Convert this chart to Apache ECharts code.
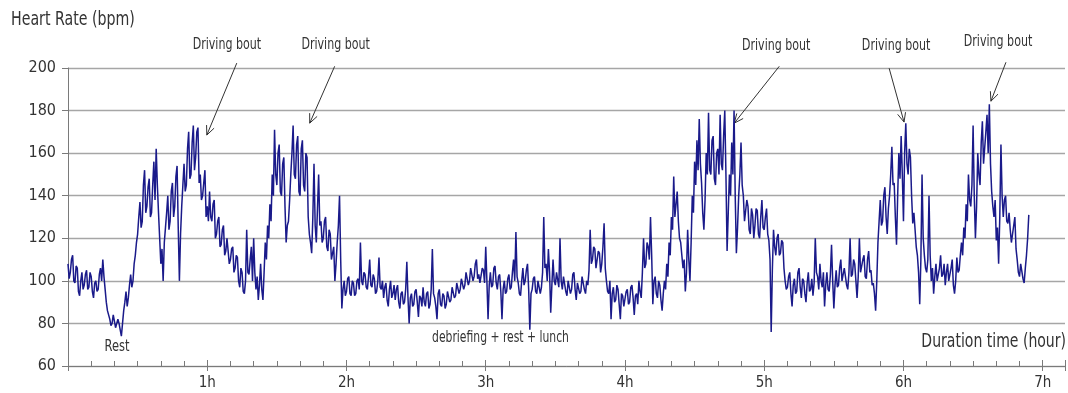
<!DOCTYPE html>
<html>
<head>
<meta charset="utf-8">
<script src="https://cdn.jsdelivr.net/npm/echarts@6/dist/echarts.min.js"></script>
<style>
  html, body { margin: 0; padding: 0; background: #fff; }
  #chart { width: 1068px; height: 393px; }
</style>
</head>
<body>
<div id="chart"></div>
<script>
// heart rate, one reading every 30 s (bpm)
const hour0 = [108, 101, 104, 110, 112, 100, 99, 107, 106, 95, 93, 100, 104, 96, 98, 103, 105, 96, 97, 104,
  102, 95, 92, 99, 100, 95, 96, 103, 106, 100, 110, 102, 96, 90, 86, 84, 82, 79, 80, 84,
  84, 78, 78, 82, 80, 77, 74, 80, 86, 90, 95, 88, 92, 98, 103, 97, 100, 108, 112, 118,
  122, 130, 137, 125, 128, 145, 152, 132, 135, 144, 148, 130, 132, 145, 156, 138, 162, 145, 132, 120,
  108, 115, 100, 118, 125, 132, 140, 124, 128, 142, 146, 130, 135, 149, 154, 125, 100, 122, 135, 145,
  155, 142, 145, 162, 170, 148, 150, 165, 173, 152, 158, 170, 172, 146, 150, 138, 140, 146, 152, 130];
const hour1 = [135, 128, 142, 130, 128, 136, 138, 120, 122, 128, 130, 116, 117, 124, 126, 112, 114, 120, 120, 108,
  110, 115, 116, 104, 106, 112, 111, 100, 97, 106, 104, 95, 94, 100, 124, 104, 103, 110, 116, 100,
  120, 104, 96, 102, 91, 98, 108, 96, 91, 104, 118, 110, 126, 120, 136, 128, 150, 140, 171, 150,
  145, 160, 164, 142, 140, 155, 158, 135, 118, 126, 128, 138, 150, 160, 173, 150, 148, 164, 168, 142,
  140, 162, 166, 145, 142, 160, 158, 130, 122, 118, 113, 130, 155, 126, 118, 134, 150, 126, 128, 118,
  120, 128, 130, 116, 114, 124, 122, 110, 110, 116, 100, 108, 118, 126, 140, 110, 87, 96, 100, 93];
const hour2 = [95, 101, 102, 94, 93, 100, 99, 93, 94, 100, 101, 96, 118, 100, 98, 104, 103, 97, 96, 102,
  110, 98, 97, 103, 101, 94, 95, 100, 111, 97, 96, 100, 92, 97, 99, 91, 88, 96, 100, 92,
  94, 98, 91, 96, 98, 90, 87, 94, 95, 89, 90, 96, 109, 92, 80, 92, 94, 88, 89, 95,
  96, 90, 83, 93, 92, 88, 97, 90, 88, 94, 95, 87, 89, 96, 115, 94, 92, 88, 82, 94,
  96, 89, 88, 94, 93, 87, 89, 95, 95, 90, 91, 97, 97, 92, 93, 99, 99, 94, 96, 101,
  101, 96, 98, 104, 104, 98, 100, 106, 106, 100, 102, 108, 110, 101, 103, 99, 99, 106, 105, 99];
const hour3 = [116, 100, 82, 98, 104, 97, 98, 106, 107, 99, 96, 102, 103, 95, 82, 96, 100, 94, 95, 101,
  103, 96, 97, 104, 110, 100, 123, 102, 99, 94, 93, 100, 106, 98, 100, 105, 108, 96, 77, 94,
  96, 101, 102, 95, 94, 100, 100, 94, 97, 104, 130, 106, 108, 100, 115, 104, 85, 98, 110, 100,
  98, 104, 104, 97, 120, 100, 96, 102, 102, 95, 93, 100, 100, 94, 96, 103, 104, 96, 91, 99,
  99, 94, 95, 102, 102, 96, 94, 100, 98, 105, 124, 108, 110, 116, 115, 106, 106, 114, 113, 104,
  108, 116, 127, 106, 100, 95, 94, 100, 82, 94, 97, 90, 91, 98, 96, 89, 82, 94, 93, 88];
const hour4 = [88, 95, 96, 89, 90, 97, 98, 92, 84, 93, 94, 89, 100, 95, 92, 104, 120, 106, 108, 118,
  116, 110, 130, 112, 89, 100, 102, 94, 92, 100, 98, 91, 86, 94, 100, 96, 108, 102, 118, 112,
  130, 124, 149, 130, 136, 142, 128, 120, 118, 112, 106, 110, 95, 104, 124, 110, 100, 118, 140, 132,
  156, 145, 166, 152, 176, 155, 146, 132, 124, 138, 160, 150, 179, 152, 150, 166, 168, 148, 145, 160,
  162, 150, 178, 155, 152, 168, 180, 150, 114, 132, 150, 140, 165, 150, 180, 140, 113, 125, 140, 150,
  165, 145, 140, 128, 128, 138, 135, 124, 122, 134, 131, 120, 126, 134, 133, 122, 120, 130, 138, 125];
const hour5 = [124, 130, 134, 122, 119, 110, 76, 105, 124, 116, 112, 120, 122, 112, 113, 119, 118, 106, 100, 96,
  97, 102, 104, 94, 88, 98, 101, 94, 95, 104, 106, 97, 92, 101, 100, 94, 90, 99, 104, 95,
  96, 101, 93, 99, 120, 104, 102, 96, 108, 100, 97, 104, 88, 98, 104, 96, 95, 103, 117, 100,
  87, 98, 105, 97, 98, 106, 110, 100, 100, 106, 106, 98, 96, 104, 120, 102, 103, 110, 108, 100,
  92, 102, 120, 104, 104, 110, 112, 102, 101, 110, 114, 104, 105, 98, 99, 94, 86, 100, 118, 128,
  138, 126, 128, 140, 144, 130, 122, 134, 140, 150, 163, 145, 146, 130, 117, 140, 160, 148, 168, 150];
const hour6 = [128, 160, 174, 155, 150, 162, 158, 140, 127, 132, 124, 116, 112, 104, 89, 110, 150, 120, 112, 106,
  104, 110, 140, 112, 100, 106, 94, 102, 108, 100, 100, 106, 112, 102, 103, 108, 98, 104, 108, 100,
  100, 106, 110, 98, 94, 100, 111, 104, 105, 112, 118, 112, 125, 120, 136, 128, 150, 138, 135, 145,
  173, 140, 120, 135, 160, 150, 145, 165, 175, 155, 155, 170, 178, 160, 183, 155, 142, 135, 130, 138,
  119, 125, 108, 130, 164, 140, 130, 138, 140, 128, 127, 132, 124, 118, 118, 126, 130, 115, 110, 104,
  102, 108, 108, 101, 99, 106, 112, 120, 131];

const heartRate = [].concat(hour0, hour1, hour2, hour3, hour4, hour5, hour6);
const hourTicks = [1, 2, 3, 4, 5, 6, 7];

// annotation texts; anchors in chart units [hours, bpm]
const boutLabels = [
  { text: 'Driving bout', at: [1.141, 210.7], tail: [1.212, 202.3], head: [0.997, 168.5] },
  { text: 'Driving bout', at: [1.922, 210.7], tail: [1.915, 200.8], head: [1.736, 174.1] },
  { text: 'Driving bout', at: [5.086, 210.2], tail: [5.108, 200.8], head: [4.785, 174.1] },
  { text: 'Driving bout', at: [5.947, 210.2], tail: [5.897, 199.9], head: [6.004, 174.6] },
  { text: 'Driving bout', at: [6.679, 212.1], tail: [6.736, 202.7], head: [6.628, 184.4] }
];
const phaseLabels = [
  { text: 'Rest', at: [0.352, 68.9], squeeze: 0.85 },
  { text: 'debriefing + rest + lunch', at: [3.106, 73.1], squeeze: 0.8 }
];

const FONT = '"DejaVu Sans Condensed", "DejaVu Sans", sans-serif';
const TEXT_COLOR = '#333333';
const AXIS_COLOR = '#7a7a7a';

const chart = echarts.init(document.getElementById('chart'), null, { renderer: 'canvas' });

const option = {
  animation: false,
  backgroundColor: '#fff',
  grid: { left: 68, top: 68, right: 2, bottom: 27 },
  xAxis: [
    {
      type: 'value',
      min: 0,
      max: 7.16,
      interval: 1,
      axisLine: { lineStyle: { color: AXIS_COLOR, width: 1 } },
      axisTick: { inside: true, length: 6, lineStyle: { color: AXIS_COLOR } },
      minorTick: { show: true, splitNumber: 6, length: 5, lineStyle: { color: AXIS_COLOR } },
      splitLine: { show: false },
      axisLabel: {
        margin: 10,
        fontFamily: FONT,
        fontSize: 15,
        color: TEXT_COLOR,
        formatter: (v) => (hourTicks.indexOf(v) >= 0 ? v + 'h' : '')
      }
    },
    {
      type: 'value',
      position: 'bottom',
      min: 0,
      max: 7.16,
      interval: 1,
      axisLine: { show: false },
      axisTick: { length: 5, lineStyle: { color: AXIS_COLOR } },
      axisLabel: { show: false },
      splitLine: { show: false }
    }
  ],
  yAxis: {
    type: 'value',
    min: 60,
    max: 200,
    interval: 20,
    axisLine: { show: true, lineStyle: { color: AXIS_COLOR, width: 1 } },
    axisTick: { show: true, length: 6, lineStyle: { color: AXIS_COLOR } },
    splitLine: { lineStyle: { color: '#a6a6a6', width: 1.3 } },
    axisLabel: { margin: 12, fontFamily: FONT, fontSize: 16, color: TEXT_COLOR }
  },
  series: [
    {
      name: 'Heart Rate',
      type: 'line',
      showSymbol: false,
      data: heartRate.map((v, i) => [i / 120, v]),
      lineStyle: { color: '#1a1a8a', width: 1.5 },
      clip: false
    }
  ]
};

chart.setOption(option);

// annotations placed with the chart's own coordinate conversion
function arrowParts(tail, head) {
  const p0 = chart.convertToPixel({ gridIndex: 0 }, tail);
  const p1 = chart.convertToPixel({ gridIndex: 0 }, head);
  const ang = Math.atan2(p1[1] - p0[1], p1[0] - p0[0]);
  const len = 10, spread = 0.42;
  const style = { stroke: '#333', lineWidth: 1 };
  return [
    { type: 'line', shape: { x1: p0[0], y1: p0[1], x2: p1[0], y2: p1[1] }, style },
    { type: 'polyline', shape: { points: [
      [p1[0] - len * Math.cos(ang - spread), p1[1] - len * Math.sin(ang - spread)],
      [p1[0], p1[1]],
      [p1[0] - len * Math.cos(ang + spread), p1[1] - len * Math.sin(ang + spread)]
    ] }, style }
  ];
}

function textPart(text, at, size, squeeze) {
  const p = chart.convertToPixel({ gridIndex: 0 }, at);
  return {
    type: 'text', x: p[0], y: p[1], scaleX: squeeze,
    style: { text, fontFamily: FONT, fontSize: size, fill: TEXT_COLOR, align: 'center', verticalAlign: 'middle' }
  };
}

const graphics = [
  { type: 'text', x: 11, y: 20, scaleX: 0.83,
    style: { text: 'Heart Rate (bpm)', fontFamily: FONT, fontSize: 19, fill: TEXT_COLOR, verticalAlign: 'middle' } },
  { type: 'text', x: 1066, y: 342, scaleX: 0.78,
    style: { text: 'Duration time (hour)', fontFamily: FONT, fontSize: 20, fill: TEXT_COLOR, align: 'right', verticalAlign: 'middle' } }
];
boutLabels.forEach((b) => {
  graphics.push(textPart(b.text, b.at, 15, 0.82));
  graphics.push(...arrowParts(b.tail, b.head));
});
phaseLabels.forEach((p) => graphics.push(textPart(p.text, p.at, 15, p.squeeze)));

chart.setOption({ graphic: graphics });
</script>
</body>
</html>
